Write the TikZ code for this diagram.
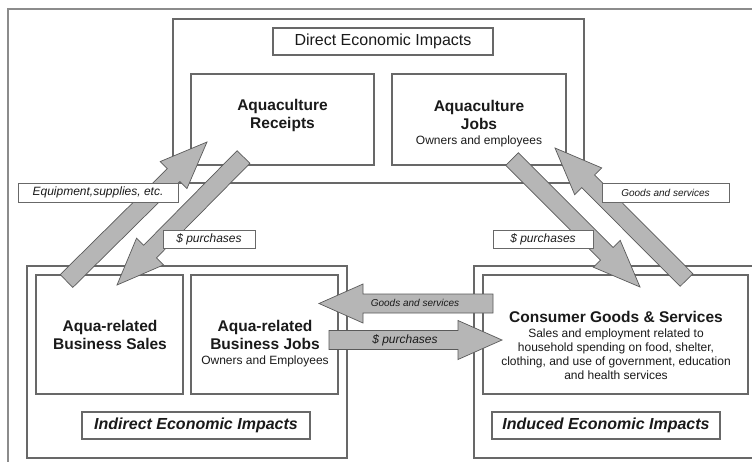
\documentclass[tikz,border=0pt]{standalone}
\usepackage{fontspec}
\setmainfont{Liberation Sans}
\usetikzlibrary{calc}
\definecolor{boxline}{HTML}{686868}
\definecolor{frameline}{HTML}{8C8C8C}
\definecolor{arrowfill}{HTML}{B6B6B6}
\definecolor{arrowline}{HTML}{5A5A5A}
\definecolor{ink}{HTML}{1A1A1A}
% tail, tip, body half width, head half width, head length
\newcommand\fatarrow[5]{%
  \coordinate (fa-base) at ($(#2)!#5!(#1)$);
  \filldraw[blockarrow] ($(#1)!#3!90:(#2)$) -- ($(fa-base)!#3!-90:(#1)$)
    -- ($(fa-base)!#4!-90:(#1)$) -- (#2) -- ($(fa-base)!#4!90:(#1)$)
    -- ($(fa-base)!#3!90:(#1)$) -- ($(#1)!#3!-90:(#2)$) -- cycle;}
\begin{document}
\begin{tikzpicture}[x=1pt,y=-1pt,
  panel/.style={draw=boxline, line width=1.4pt, fill=none, inner sep=0pt, outer sep=0pt},
  framebox/.style={draw=frameline, line width=1.5pt, inner sep=0pt, outer sep=0pt},
  titlebox/.style={draw=boxline, line width=1.2pt, fill=white, inner sep=0pt, text=ink,
    font=\fontsize{16}{19}\selectfont},
  labelbox/.style={draw=boxline, line width=1pt, fill=white, inner sep=0pt, text=ink,
    font=\fontsize{12}{14}\selectfont\itshape},
  blockarrow/.style={fill=arrowfill, draw=arrowline, line width=0.7pt, line join=miter},
  head/.style={font=\fontsize{15.5}{18}\selectfont\bfseries, text=ink, inner sep=0pt, anchor=base},
  sub/.style={font=\fontsize{12}{14}\selectfont, text=ink, inner sep=0pt, anchor=base},
  arrowtext/.style={text=ink, inner sep=0pt, font=\fontsize{12}{14}\selectfont\itshape}]
\useasboundingbox (0,0) rectangle (752,461);
\fill[white] (0,0) rectangle (752,461);

% frames and boxes
\node[framebox, minimum width=762pt, minimum height=466pt] (outer) at (389,242) {};
\node[panel, minimum width=411pt, minimum height=164pt] (direct) at (378.5,101) {};
\node[panel, minimum width=183pt, minimum height=91pt] (receipts) at (282.5,119.5) {};
\node[panel, minimum width=174pt, minimum height=91pt] (jobs) at (479,119.5) {};
\node[panel, minimum width=320pt, minimum height=192pt] (indirect) at (187,362) {};
\node[panel, minimum width=147pt, minimum height=119pt] (sales) at (109.5,334.5) {};
\node[panel, minimum width=147pt, minimum height=119pt] (bizjobs) at (264.5,334.5) {};
\node[panel, minimum width=296pt, minimum height=192pt] (induced) at (622,362) {};
\node[panel, minimum width=265pt, minimum height=119pt] (consumer) at (615.5,334.5) {};

\node[titlebox, minimum width=220pt, minimum height=27pt] (directtitle) at (383,41.5) {Direct Economic Impacts};
\node[titlebox, minimum width=228pt, minimum height=27pt, font=\fontsize{16}{19}\selectfont\bfseries\itshape] (indirecttitle) at (196,425.5) {Indirect Economic Impacts};
\node[titlebox, minimum width=228pt, minimum height=27pt, font=\fontsize{16}{19}\selectfont\bfseries\itshape] (inducedtitle) at (606,425.5) {Induced Economic Impacts};

% box texts
\node[head] (rc1) at (282.5,110) {Aquaculture};
\node[head] (rc2) at (282.5,128) {Receipts};
\node[head] (jb1) at (479,111) {Aquaculture};
\node[head] (jb2) at (479,129) {Jobs};
\node[sub]  (jb3) at (479,144) {Owners and employees};
\node[head] (sl1) at (110,331) {Aqua-related};
\node[head] (sl2) at (110,349) {Business Sales};
\node[head] (bj1) at (265,331) {Aqua-related};
\node[head] (bj2) at (265,349) {Business Jobs};
\node[sub]  (bj3) at (265,364) {Owners and Employees};
\node[head] (cg1) at (616,322) {Consumer Goods \& Services};
\node[sub]  (cg2) at (616,337) {Sales and employment related to};
\node[sub]  (cg3) at (616,351) {household spending on food, shelter,};
\node[sub]  (cg4) at (616,365) {clothing, and use of government, education};
\node[sub]  (cg5) at (616,379) {and health services};

% arrow end points
\coordinate (a1s) at (66.5,281);  \coordinate (a1e) at (207,142);
\coordinate (a2s) at (243.5,157); \coordinate (a2e) at (117,285);
\coordinate (a3s) at (512,159);   \coordinate (a3e) at (640,287);
\coordinate (a4s) at (686.5,280); \coordinate (a4e) at (555,148);
\coordinate (h1s) at (493,303.5); \coordinate (h1e) at (319,303.5);
\coordinate (h2s) at (329,340);   \coordinate (h2e) at (502,340);

\fatarrow{a1s}{a1e}{9pt}{19pt}{47pt}
\fatarrow{a2s}{a2e}{9pt}{19pt}{47pt}
\fatarrow{a3s}{a3e}{9pt}{19pt}{47pt}
\fatarrow{a4s}{a4e}{9pt}{19pt}{47pt}
\fatarrow{h1s}{h1e}{9.5pt}{19.5pt}{44pt}
\fatarrow{h2s}{h2e}{9.5pt}{19.5pt}{44pt}

\node[arrowtext, font=\fontsize{10}{12}\selectfont\itshape] (h1t) at (415,303) {Goods and services};
\node[arrowtext] (h2t) at (405,340) {\$ purchases};

% labels
\node[labelbox, minimum width=160pt, minimum height=19pt] (equip) at (98,192.5) {Equipment,supplies, etc.};
\node[labelbox, minimum width=92pt, minimum height=18pt] (lpurch) at (209,239) {\$ purchases};
\node[labelbox, minimum width=100pt, minimum height=18pt] (rpurch) at (543,239) {\$ purchases};
\node[labelbox, minimum width=127pt, minimum height=19pt, font=\fontsize{10}{12}\selectfont\itshape] (goodsr) at (665.5,192.5) {Goods and services};
\end{tikzpicture}
\end{document}
